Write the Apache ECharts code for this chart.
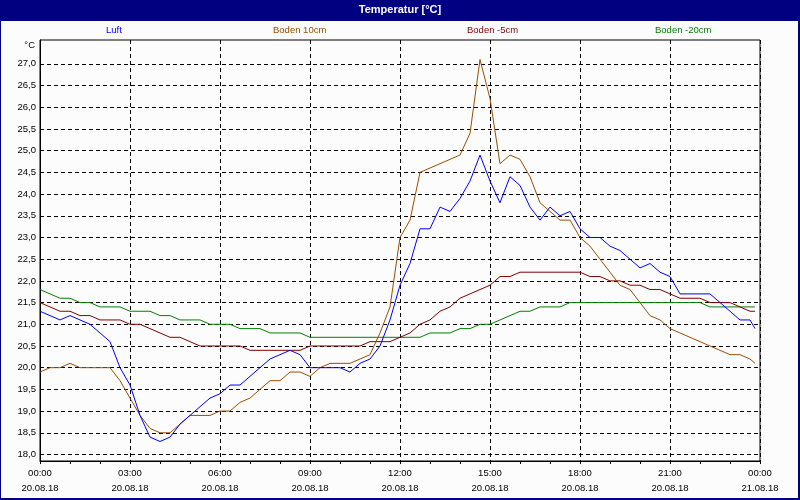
<!DOCTYPE html>
<html><head><meta charset="utf-8">
<script src="https://cdn.jsdelivr.net/npm/echarts@6/dist/echarts.min.js"></script>
<style>html,body{margin:0;padding:0;background:#fff}#c{width:800px;height:500px}</style>
</head><body><div id="c"></div>
<script>
// ---- data (20-minute samples from 20.08.18 00:00, last sample at 23:50) ----
const seriesNames = ['Luft', 'Boden 10cm', 'Boden -5cm', 'Boden -20cm'];
const luft = [21.3,21.2,21.1,21.2,21.1,21.0,20.8,20.6,20.0,19.6,
  18.9,18.4,18.3,18.4,18.7,18.9,19.1,19.3,19.4,19.6,
  19.6,19.8,20.0,20.2,20.3,20.4,20.3,20.0,20.0,20.0,
  20.0,19.9,20.1,20.2,20.5,21.1,21.9,22.4,23.2,23.2,
  23.7,23.6,23.9,24.3,24.9,24.3,23.8,24.4,24.2,23.7,
  23.4,23.7,23.5,23.6,23.2,23.0,23.0,22.8,22.7,22.5,
  22.3,22.4,22.2,22.1,21.7,21.7,21.7,21.7,21.5,21.3,
  21.1,21.1,20.9];
const boden10 = [19.9,20.0,20.0,20.1,20.0,20.0,20.0,20.0,19.7,19.3,
  18.9,18.6,18.5,18.5,18.7,18.9,18.9,18.9,19.0,19.0,
  19.2,19.3,19.5,19.7,19.7,19.9,19.9,19.8,20.0,20.1,
  20.1,20.1,20.2,20.3,20.8,21.4,23.0,23.4,24.5,24.6,
  24.7,24.8,24.9,25.4,27.1,26.2,24.7,24.9,24.8,24.4,
  23.8,23.6,23.4,23.4,23.0,22.8,22.5,22.2,21.9,21.8,
  21.5,21.2,21.1,20.9,20.8,20.7,20.6,20.5,20.4,20.3,
  20.3,20.2,20.1];
const bodenM5 = [21.5,21.4,21.3,21.3,21.2,21.2,21.1,21.1,21.1,21.0,
  21.0,20.9,20.8,20.7,20.7,20.6,20.5,20.5,20.5,20.5,
  20.5,20.4,20.4,20.4,20.4,20.4,20.4,20.5,20.5,20.5,
  20.5,20.5,20.5,20.6,20.6,20.6,20.7,20.8,21.0,21.1,
  21.3,21.4,21.6,21.7,21.8,21.9,22.1,22.1,22.2,22.2,
  22.2,22.2,22.2,22.2,22.2,22.1,22.1,22.0,22.0,21.9,
  21.9,21.8,21.8,21.7,21.6,21.6,21.6,21.5,21.5,21.5,
  21.4,21.3,21.3];
const bodenM20 = [21.8,21.7,21.6,21.6,21.5,21.5,21.4,21.4,21.4,21.3,
  21.3,21.3,21.2,21.2,21.1,21.1,21.1,21.0,21.0,21.0,
  20.9,20.9,20.9,20.8,20.8,20.8,20.8,20.7,20.7,20.7,
  20.7,20.7,20.7,20.7,20.7,20.7,20.7,20.7,20.7,20.8,
  20.8,20.8,20.9,20.9,21.0,21.0,21.1,21.2,21.3,21.3,
  21.4,21.4,21.4,21.5,21.5,21.5,21.5,21.5,21.5,21.5,
  21.5,21.5,21.5,21.5,21.5,21.5,21.5,21.4,21.4,21.4,
  21.4,21.4,21.4];
const stepMinutes = 20;
const lastMinute = 1430;
const xTickLabels = ['00:00\n20.08.18','03:00\n20.08.18','06:00\n20.08.18','09:00\n20.08.18',
  '12:00\n20.08.18','15:00\n20.08.18','18:00\n20.08.18','21:00\n20.08.18','00:00\n21.08.18'];
const yTicks = [18.0,18.5,19.0,19.5,20.0,20.5,21.0,21.5,22.0,22.5,23.0,23.5,24.0,24.5,25.0,25.5,26.0,26.5,27.0];

// ---- styling ----
const colors = ['#0000ff', '#9a4d00', '#800000', '#008000'];
const legendLefts = [101, 268, 462, 650];
const font = 'Liberation Sans';
const fs = 9.5;

const allValues = [luft, boden10, bodenM5, bodenM20];
const hours = luft.map((_, i) => (i < 72 ? i * stepMinutes : lastMinute) / 60);

const chart = echarts.init(document.getElementById('c'), null, {renderer: 'canvas'});
chart.setOption({
  animation: false,
  backgroundColor: '#fcfcfc',
  textStyle: {fontFamily: font},
  title: {
    text: 'Temperatur [°C]', left: 'center', top: 4, padding: 0,
    textStyle: {color: '#ffffff', fontSize: 11, fontWeight: 'bold', fontFamily: font}
  },
  legend: seriesNames.map((n, i) => ({
    data: [{name: n, textStyle: {color: colors[i]}}],
    left: legendLefts[i], top: 25, padding: 0,
    icon: 'rect', itemWidth: 0, itemHeight: 0, itemGap: 0,
    selectedMode: false,
    textStyle: {fontSize: fs, fontFamily: font}
  })),
  grid: {left: 40, right: 40, top: 40, bottom: 39, show: true, borderColor: '#000', borderWidth: 1, backgroundColor: 'transparent'},
  xAxis: {
    type: 'value', min: 0, max: 24, interval: 3,
    axisLine: {lineStyle: {color: '#000', width: 1}},
    axisTick: {length: 3, lineStyle: {color: '#000'}},
    minorTick: {show: true, splitNumber: 3, length: 3, lineStyle: {color: '#000'}},
    splitLine: {show: true, lineStyle: {color: '#000', type: [4, 3], width: 1}},
    axisLabel: {formatter: v => xTickLabels[Math.round(v / 3)], color: '#000', fontSize: fs, lineHeight: 15, margin: 5, fontFamily: font}
  },
  yAxis: {
    type: 'value', min: 17.85, max: 27.55,
    name: '°C', nameLocation: 'end', nameGap: 0,
    nameTextStyle: {align: 'right', verticalAlign: 'top', padding: [0, 5, 0, 0], color: '#000', fontSize: fs, fontFamily: font},
    axisLine: {show: true, lineStyle: {color: '#000', width: 1}},
    axisTick: {show: false, customValues: yTicks},
    axisLabel: {customValues: yTicks, formatter: v => v.toFixed(1).replace('.', ','), color: '#000', fontSize: fs, margin: 4, fontFamily: font},
    splitLine: {show: true, lineStyle: {color: '#000', type: [4, 3], width: 1}}
  },
  series: seriesNames.map((n, i) => ({
    name: n, type: 'line', showSymbol: false, symbol: 'none',
    lineStyle: {color: colors[i], width: 1}, itemStyle: {color: colors[i]},
    data: allValues[i].map((v, k) => [hours[k], v]),
    z: 10 - i
  })),
  graphic: [
    {type: 'rect', shape: {x: 0, y: 0, width: 800, height: 21}, style: {fill: '#000080'}, z: -10},
    {type: 'rect', shape: {x: 0, y: 0, width: 1, height: 500}, style: {fill: '#000080'}, z: 100},
    {type: 'rect', shape: {x: 798, y: 0, width: 2, height: 500}, style: {fill: '#000080'}, z: 100},
    {type: 'rect', shape: {x: 0, y: 498, width: 800, height: 2}, style: {fill: '#000080'}, z: 100}
  ]
});
</script>
</body></html>
